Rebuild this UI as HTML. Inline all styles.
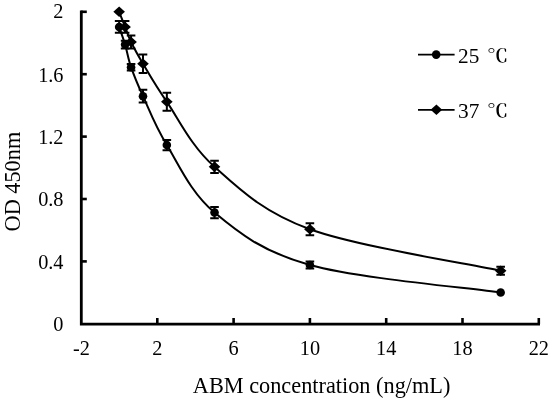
<!DOCTYPE html>
<html><head><meta charset="utf-8"><title>chart</title><style>html,body{margin:0;padding:0;background:#fff}body{width:550px;height:399px;overflow:hidden;position:relative}.lg{position:absolute;left:458px;height:40px;line-height:40px;white-space:nowrap;font-family:"Liberation Serif","Noto Serif CJK SC",serif;font-size:21.3px;color:#000}.dc{display:inline-block;font-family:"Noto Serif CJK SC","Liberation Serif",serif;font-weight:600;font-size:17.8px;line-height:1;transform:translateY(-0.6px) scale(1.19,1);transform-origin:0 50%;margin-left:2.2px}</style></head><body>
<svg width="550" height="399" viewBox="0 0 550 399" style="display:block">
<rect width="550" height="399" fill="#fff"/>
<path d="M81.3,10.5 V324.2 H540" fill="none" stroke="#000" stroke-width="2.8" stroke-linejoin="miter"/>
<path d="M81.2,261.40 h5.6" stroke="#000" stroke-width="2.6"/>
<path d="M81.2,199.00 h5.6" stroke="#000" stroke-width="2.6"/>
<path d="M81.2,136.60 h5.6" stroke="#000" stroke-width="2.6"/>
<path d="M81.2,74.20 h5.6" stroke="#000" stroke-width="2.6"/>
<path d="M81.2,11.80 h5.6" stroke="#000" stroke-width="2.6"/>
<path d="M157.30,324.2 v-6.2" stroke="#000" stroke-width="2.6"/>
<path d="M233.60,324.2 v-6.2" stroke="#000" stroke-width="2.6"/>
<path d="M309.90,324.2 v-6.2" stroke="#000" stroke-width="2.6"/>
<path d="M386.20,324.2 v-6.2" stroke="#000" stroke-width="2.6"/>
<path d="M462.50,324.2 v-6.2" stroke="#000" stroke-width="2.6"/>
<path d="M538.80,324.2 v-6.2" stroke="#000" stroke-width="2.6"/>
<g font-family="'Liberation Serif', serif" font-size="20.3" fill="#000">
<text x="63.5" y="331.20" text-anchor="end">0</text>
<text x="63.5" y="268.80" text-anchor="end">0.4</text>
<text x="63.5" y="206.40" text-anchor="end">0.8</text>
<text x="63.5" y="144.00" text-anchor="end">1.2</text>
<text x="63.5" y="81.60" text-anchor="end">1.6</text>
<text x="63.5" y="18.30" text-anchor="end">2</text>
<text x="81.50" y="355.4" text-anchor="middle">-2</text>
<text x="157.30" y="355.4" text-anchor="middle">2</text>
<text x="233.60" y="355.4" text-anchor="middle">6</text>
<text x="309.90" y="355.4" text-anchor="middle">10</text>
<text x="386.20" y="355.4" text-anchor="middle">14</text>
<text x="462.50" y="355.4" text-anchor="middle">18</text>
<text x="538.80" y="355.4" text-anchor="middle">22</text>
<text x="321.6" y="392.5" text-anchor="middle" font-size="22.3">ABM concentration (ng/mL)</text>
<text transform="translate(20.3,181.6) rotate(-90)" text-anchor="middle" font-size="22.3">OD 450nm</text>
</g>
<path d="M119.15,26.93 C120.14,29.87 123.12,37.85 125.11,44.56 C127.10,51.27 128.09,58.57 131.07,67.18 C134.05,75.79 137.03,83.22 142.99,96.20 C148.95,109.17 154.92,125.63 166.84,145.02 C178.76,164.42 190.68,192.58 214.53,212.57 C238.37,232.57 262.21,251.67 309.90,264.99 C357.59,278.31 468.86,287.91 500.65,292.49" fill="none" stroke="#000" stroke-width="2"/>
<path d="M119.15,21.00 V32.86 M114.85,21.00 h8.6 M114.85,32.86 h8.6" stroke="#000" stroke-width="2" fill="none"/>
<path d="M125.11,40.66 V48.46 M120.81,40.66 h8.6 M120.81,48.46 h8.6" stroke="#000" stroke-width="2" fill="none"/>
<path d="M131.07,63.90 V70.46 M126.77,63.90 h8.6 M126.77,70.46 h8.6" stroke="#000" stroke-width="2" fill="none"/>
<path d="M142.99,89.80 V102.59 M138.69,89.80 h8.6 M138.69,102.59 h8.6" stroke="#000" stroke-width="2" fill="none"/>
<path d="M166.84,139.88 V150.17 M162.54,139.88 h8.6 M162.54,150.17 h8.6" stroke="#000" stroke-width="2" fill="none"/>
<path d="M214.53,206.96 V218.19 M210.22,206.96 h8.6 M210.22,218.19 h8.6" stroke="#000" stroke-width="2" fill="none"/>
<path d="M309.90,261.40 V268.58 M305.60,261.40 h8.6 M305.60,268.58 h8.6" stroke="#000" stroke-width="2" fill="none"/>
<circle cx="119.15" cy="26.93" r="4.3" fill="#000"/>
<circle cx="125.11" cy="44.56" r="4.3" fill="#000"/>
<circle cx="131.07" cy="67.18" r="4.3" fill="#000"/>
<circle cx="142.99" cy="96.20" r="4.3" fill="#000"/>
<circle cx="166.84" cy="145.02" r="4.3" fill="#000"/>
<circle cx="214.53" cy="212.57" r="4.3" fill="#000"/>
<circle cx="309.90" cy="264.99" r="4.3" fill="#000"/>
<circle cx="500.65" cy="292.49" r="4.3" fill="#000"/>
<path d="M119.15,11.80 C120.14,14.32 123.12,21.89 125.11,26.93 C127.10,31.98 128.09,35.93 131.07,42.06 C134.05,48.20 137.03,53.79 142.99,63.75 C148.95,73.71 154.92,84.63 166.84,101.81 C178.76,119.00 190.68,145.62 214.53,166.86 C238.37,188.11 262.21,211.95 309.90,229.26 C357.59,246.58 468.86,263.84 500.65,270.76" fill="none" stroke="#000" stroke-width="2"/>
<path d="M125.11,21.00 V32.86 M120.81,21.00 h8.6 M120.81,32.86 h8.6" stroke="#000" stroke-width="2" fill="none"/>
<path d="M131.07,35.51 V48.62 M126.77,35.51 h8.6 M126.77,48.62 h8.6" stroke="#000" stroke-width="2" fill="none"/>
<path d="M142.99,54.39 V73.11 M138.69,54.39 h8.6 M138.69,73.11 h8.6" stroke="#000" stroke-width="2" fill="none"/>
<path d="M166.84,92.76 V110.86 M162.54,92.76 h8.6 M162.54,110.86 h8.6" stroke="#000" stroke-width="2" fill="none"/>
<path d="M214.53,160.78 V172.95 M210.22,160.78 h8.6 M210.22,172.95 h8.6" stroke="#000" stroke-width="2" fill="none"/>
<path d="M309.90,223.34 V235.19 M305.60,223.34 h8.6 M305.60,235.19 h8.6" stroke="#000" stroke-width="2" fill="none"/>
<path d="M500.65,266.70 V274.82 M496.35,266.70 h8.6 M496.35,274.82 h8.6" stroke="#000" stroke-width="2" fill="none"/>
<path d="M119.15,6.50 l5.8,5.3 l-5.8,5.3 l-5.8,-5.3z" fill="#000"/>
<path d="M125.11,21.63 l5.8,5.3 l-5.8,5.3 l-5.8,-5.3z" fill="#000"/>
<path d="M131.07,36.76 l5.8,5.3 l-5.8,5.3 l-5.8,-5.3z" fill="#000"/>
<path d="M142.99,58.45 l5.8,5.3 l-5.8,5.3 l-5.8,-5.3z" fill="#000"/>
<path d="M166.84,96.51 l5.8,5.3 l-5.8,5.3 l-5.8,-5.3z" fill="#000"/>
<path d="M214.53,161.56 l5.8,5.3 l-5.8,5.3 l-5.8,-5.3z" fill="#000"/>
<path d="M309.90,223.96 l5.8,5.3 l-5.8,5.3 l-5.8,-5.3z" fill="#000"/>
<path d="M500.65,265.46 l5.8,5.3 l-5.8,5.3 l-5.8,-5.3z" fill="#000"/>
<path d="M418,54.6 H454.6 M418,109.8 H454.6" stroke="#000" stroke-width="1.8"/>
<circle cx="436.20" cy="54.60" r="4.3" fill="#000"/>
<path d="M436.40,104.50 l5.8,5.3 l-5.8,5.3 l-5.8,-5.3z" fill="#000"/>
</svg>
<div class="lg" style="top:35.6px">25 <span class="dc">℃</span></div>
<div class="lg" style="top:90.9px">37 <span class="dc">℃</span></div>
</body></html>
